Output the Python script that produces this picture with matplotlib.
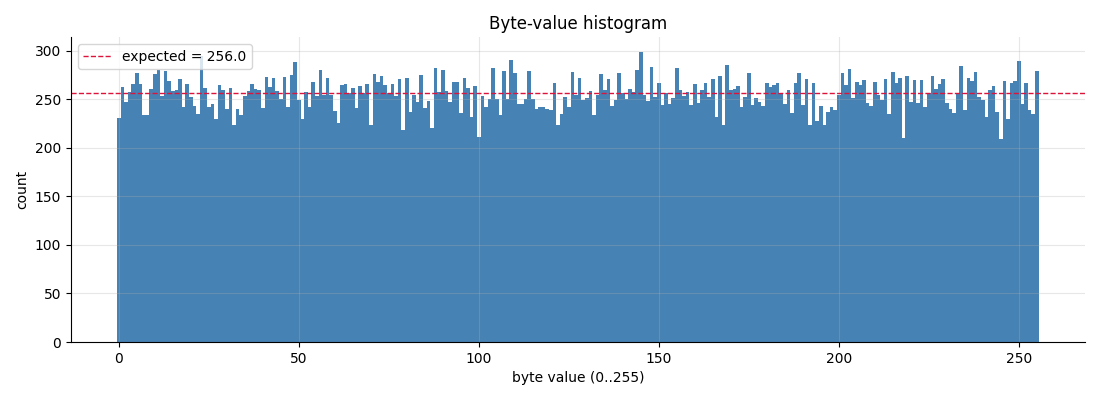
import matplotlib
matplotlib.use("Agg")
import matplotlib.pyplot as plt

# counts per byte value
byte_values = list(range(256))
counts = [
    231, 263, 247, 258, 266, 277, 266, 234, 234, 261, 276, 280, 253, 279, 269, 259,
    260, 271, 242, 266, 252, 243, 235, 295, 262, 242, 245, 230, 265, 260, 240, 262,
    223, 240, 234, 253, 259, 266, 261, 260, 241, 273, 263, 272, 259, 250, 273, 242,
    275, 288, 249, 230, 257, 242, 268, 253, 280, 254, 272, 254, 238, 226, 265, 266,
    256, 262, 241, 264, 256, 266, 224, 276, 268, 274, 265, 256, 266, 253, 271, 218,
    272, 237, 254, 247, 275, 241, 248, 220, 282, 257, 280, 259, 247, 268, 268, 236,
    272, 262, 232, 264, 211, 253, 242, 250, 282, 250, 234, 279, 250, 290, 277, 245,
    245, 250, 279, 250, 240, 242, 242, 240, 239, 267, 224, 235, 252, 242, 278, 254,
    272, 249, 251, 259, 234, 254, 276, 260, 271, 243, 249, 277, 256, 250, 261, 258,
    280, 299, 254, 248, 283, 252, 267, 244, 256, 245, 251, 282, 260, 253, 258, 244,
    266, 246, 260, 267, 252, 271, 232, 274, 224, 285, 260, 261, 264, 242, 252, 277,
    244, 251, 247, 243, 267, 263, 265, 267, 256, 245, 260, 236, 267, 277, 244, 271,
    224, 267, 228, 243, 223, 237, 242, 239, 254, 277, 265, 281, 251, 268, 265, 270,
    246, 243, 268, 254, 249, 271, 235, 278, 267, 272, 210, 274, 247, 270, 246, 270,
    242, 256, 274, 261, 266, 271, 246, 240, 236, 256, 284, 239, 272, 269, 278, 252,
    249, 232, 260, 264, 237, 209, 269, 230, 267, 269, 289, 245, 267, 239, 235, 279,
]
expected = 256.0

fig, ax = plt.subplots(figsize=(11, 4), dpi=100)
fig.subplots_adjust(left=0.0645, right=0.986, bottom=0.145, top=0.907)

ax.bar(byte_values, counts, width=1.0, color="steelblue", linewidth=0)
ax.axhline(expected, color="crimson", linestyle="--", linewidth=1, label=f"expected = {expected}")

ax.set_title("Byte-value histogram")
ax.set_xlabel("byte value (0..255)")
ax.set_ylabel("count")
ax.grid(True, alpha=0.3)
ax.spines["top"].set_visible(False)
ax.spines["right"].set_visible(False)
ax.legend(loc="upper left")

fig.savefig("out.png")
